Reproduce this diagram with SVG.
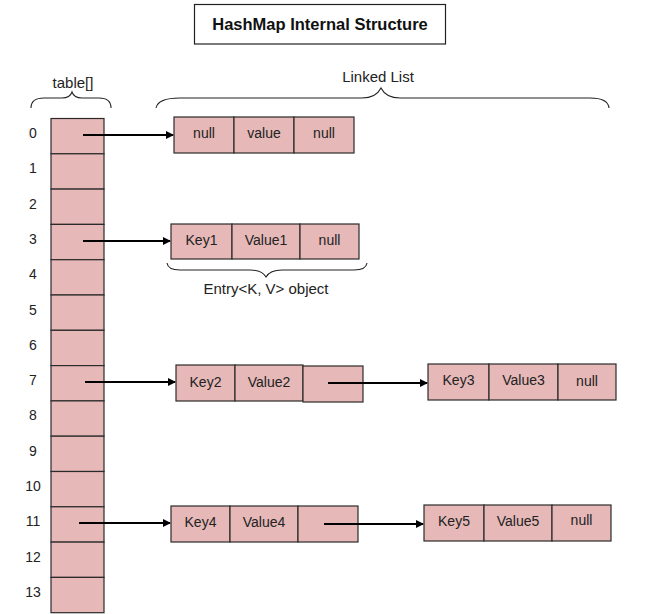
<svg xmlns="http://www.w3.org/2000/svg" width="647" height="614" viewBox="0 0 647 614">
<style>
.c{fill:#e6b8b7;stroke:#2b2b2b;stroke-width:1.2}
.t{font-family:"Liberation Sans",Arial,sans-serif;font-size:14px;fill:#222;text-anchor:middle}
.i{font-family:"Liberation Sans",Arial,sans-serif;font-size:14px;fill:#222;text-anchor:middle}
.h{font-family:"Liberation Sans",Arial,sans-serif;font-size:15px;fill:#222;text-anchor:middle}
.ln{stroke:#000;stroke-width:2;fill:none}
.br{stroke:#222;stroke-width:1.1;fill:none}
</style>
<defs>
<marker id="ah" markerWidth="8" markerHeight="8" refX="7" refY="4" orient="auto" markerUnits="userSpaceOnUse">
<path d="M0,0 L8,4 L0,8 Z" fill="#000"/>
</marker>
</defs>
<rect width="647" height="614" fill="#fff"/>
<g id="title">
<rect x="194.5" y="4.5" width="251" height="39.5" fill="#fff" stroke="#222" stroke-width="1.2"/>
<text x="320" y="30" font-family="'Liberation Sans',Arial,sans-serif" font-size="16.5" font-weight="bold" text-anchor="middle" fill="#111">HashMap Internal Structure</text>
</g>
<g id="table-label">
<text class="h" x="73" y="88">table[]</text>
<path class="br" d="M31,108 Q31,98 44,98 L62,98 Q70,98 72,92 Q74,98 82,98 L99,98 Q111,98 111,108"/>
</g>
<g id="linked-list-label">
<text class="h" x="378" y="82">Linked List</text>
<path class="br" d="M156,108 Q158,98 180,98 L362,98 Q376,98 381,88 Q386,98 400,98 L590,98 Q608,98 609,108"/>
</g>
<g id="table">
<rect class="c" x="51" y="118.5" width="53" height="35.3"/>
<rect class="c" x="51" y="153.8" width="53" height="35.3"/>
<rect class="c" x="51" y="189.1" width="53" height="35.3"/>
<rect class="c" x="51" y="224.4" width="53" height="35.3"/>
<rect class="c" x="51" y="259.7" width="53" height="35.3"/>
<rect class="c" x="51" y="295" width="53" height="35.3"/>
<rect class="c" x="51" y="330.3" width="53" height="35.3"/>
<rect class="c" x="51" y="365.6" width="53" height="35.3"/>
<rect class="c" x="51" y="400.9" width="53" height="35.3"/>
<rect class="c" x="51" y="436.2" width="53" height="35.3"/>
<rect class="c" x="51" y="471.5" width="53" height="35.3"/>
<rect class="c" x="51" y="506.8" width="53" height="35.3"/>
<rect class="c" x="51" y="542.1" width="53" height="35.3"/>
<rect class="c" x="51" y="577.4" width="53" height="35.3"/>
<text class="i" x="33" y="138">0</text>
<text class="i" x="33" y="173.3">1</text>
<text class="i" x="33" y="208.6">2</text>
<text class="i" x="33" y="243.9">3</text>
<text class="i" x="33" y="279.2">4</text>
<text class="i" x="33" y="314.5">5</text>
<text class="i" x="33" y="349.8">6</text>
<text class="i" x="33" y="385.1">7</text>
<text class="i" x="33" y="420.4">8</text>
<text class="i" x="33" y="455.7">9</text>
<text class="i" x="33" y="491">10</text>
<text class="i" x="33" y="526.3">11</text>
<text class="i" x="33" y="561.6">12</text>
<text class="i" x="33" y="596.9">13</text>
</g>
<g id="entry0">
<rect class="c" x="174" y="117" width="60" height="36"/>
<rect class="c" x="234" y="117" width="60" height="36"/>
<rect class="c" x="294" y="117" width="60" height="36"/>
<text class="t" x="204" y="138">null</text>
<text class="t" x="264" y="138">value</text>
<text class="t" x="324" y="138">null</text>
</g>
<g id="entry1">
<rect class="c" x="171" y="224" width="61" height="35"/>
<rect class="c" x="232" y="224" width="68" height="35"/>
<rect class="c" x="300" y="224" width="59" height="35"/>
<text class="t" x="201.5" y="245">Key1</text>
<text class="t" x="266" y="245">Value1</text>
<text class="t" x="329.5" y="245">null</text>
</g>
<g id="entry-label">
<path class="br" d="M167,263 Q168,270 180,270 L250,270 Q262,270 266,277 Q270,270 282,270 L354,270 Q366,270 367,263"/>
<text class="h" x="266" y="294">Entry&lt;K, V&gt; object</text>
</g>
<g id="entry2">
<rect class="c" x="176" y="365" width="59" height="36"/>
<rect class="c" x="235" y="365" width="68" height="36"/>
<rect class="c" x="303" y="366" width="60" height="36"/>
<text class="t" x="205.5" y="387">Key2</text>
<text class="t" x="269" y="387">Value2</text>
</g>
<g id="entry3">
<rect class="c" x="428" y="364" width="61" height="36"/>
<rect class="c" x="489" y="364" width="69" height="36"/>
<rect class="c" x="558" y="364" width="58" height="36"/>
<text class="t" x="458.5" y="385">Key3</text>
<text class="t" x="523.5" y="385">Value3</text>
<text class="t" x="587" y="386">null</text>
</g>
<g id="entry4">
<rect class="c" x="171" y="506" width="59" height="36"/>
<rect class="c" x="230" y="506" width="68" height="36"/>
<rect class="c" x="298" y="506" width="60" height="36"/>
<text class="t" x="200.5" y="527">Key4</text>
<text class="t" x="264" y="527">Value4</text>
</g>
<g id="entry5">
<rect class="c" x="424" y="505" width="60" height="36"/>
<rect class="c" x="484" y="505" width="68" height="36"/>
<rect class="c" x="552" y="505" width="59" height="36"/>
<text class="t" x="454" y="526">Key5</text>
<text class="t" x="518" y="526">Value5</text>
<text class="t" x="581.5" y="525">null</text>
</g>
<g id="connectors">
<line class="ln" x1="83" y1="135" x2="173" y2="135" marker-end="url(#ah)"/>
<line class="ln" x1="83" y1="241" x2="170" y2="241" marker-end="url(#ah)"/>
<line class="ln" x1="85" y1="382" x2="175" y2="382" marker-end="url(#ah)"/>
<line class="ln" x1="328" y1="383" x2="427" y2="383" marker-end="url(#ah)"/>
<line class="ln" x1="79" y1="523" x2="170" y2="523" marker-end="url(#ah)"/>
<line class="ln" x1="324" y1="524" x2="423" y2="524" marker-end="url(#ah)"/>
</g>
</svg>
